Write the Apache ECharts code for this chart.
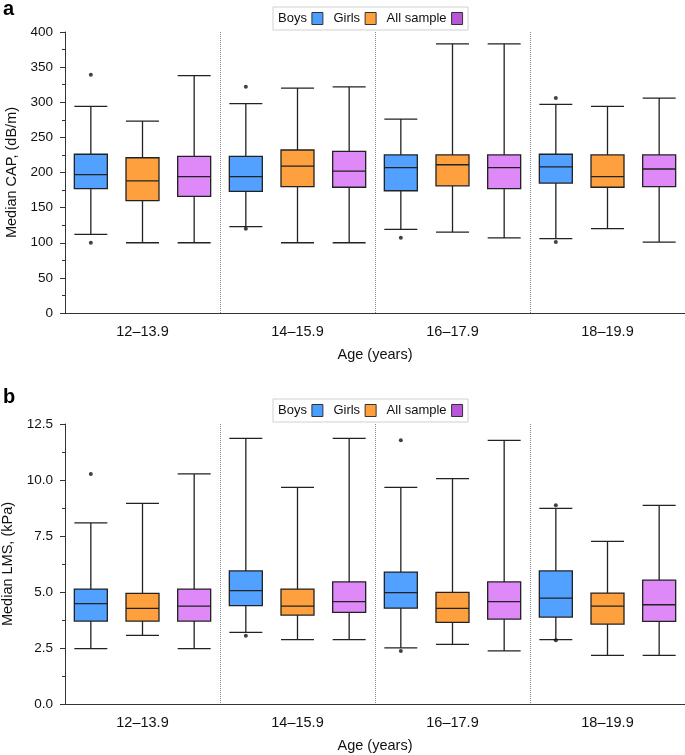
<!DOCTYPE html>
<html>
<head>
<meta charset="utf-8">
<script src="https://cdn.jsdelivr.net/npm/echarts@6/dist/echarts.min.js"></script>
<style>
  html, body { margin: 0; padding: 0; background: #fff; }
  #chart { width: 685px; height: 755px; }
</style>
</head>
<body>
<div id="chart"></div>
<script>
const ageGroups = ["12–13.9", "14–15.9", "16–17.9", "18–19.9"];
const groupNames = ["Boys", "Girls", "All sample"];

// [min, Q1, median, Q3, max] per age group
const capBoys = [[112, 177, 197, 226, 294], [123, 173, 194, 223, 298], [119, 174, 207, 225, 276], [106, 185, 208, 226, 297]];
const capGirls = [[100, 160, 188, 221, 273], [100, 180, 209, 232, 320], [115, 181, 211, 225, 383], [120, 179, 194, 225, 294]];
const capAll = [[100, 166, 194, 223, 338], [100, 179, 202, 230, 322], [107, 177, 207, 225, 383], [101, 180, 205, 225, 306]];
// [age group index, value]
const capBoysOutliers = [[0, 339], [0, 100], [1, 322], [1, 120], [2, 107], [3, 306], [3, 101]];

const lmsBoys = [[2.47, 3.7, 4.48, 5.13, 8.09], [3.2, 4.39, 5.06, 5.94, 11.86], [2.51, 4.28, 4.97, 5.89, 9.67], [2.87, 3.88, 4.73, 5.94, 8.73]];
const lmsGirls = [[3.06, 3.7, 4.27, 4.94, 8.96], [2.87, 3.97, 4.37, 5.13, 9.67], [2.66, 3.64, 4.27, 4.98, 10.06], [2.17, 3.57, 4.37, 4.95, 7.26]];
const lmsAll = [[2.47, 3.7, 4.37, 5.13, 10.27], [2.87, 4.09, 4.57, 5.45, 11.86], [2.37, 3.79, 4.57, 5.45, 11.77], [2.17, 3.69, 4.43, 5.53, 8.87]];
const lmsBoysOutliers = [[0, 10.27], [1, 3.05], [2, 11.77], [2, 2.37], [3, 8.87], [3, 2.85]];

const boxColors = ["#52a0ff", "#ffa03e", "#df88f7"];
const legendColors = ["#4a9eff", "#ffa03c", "#b855d8"];
const FONT = "Liberation Sans";

const chart = echarts.init(document.getElementById("chart"));

// each box gets its own slot: 3 slots per age group
const slots = [];
for (let i = 0; i < ageGroups.length * 3; i++) slots.push(String(i));

const panels = [
  { top: 32, bottom: 442, legendTop: 7, name: "Median CAP, (dB/m)", max: 400, interval: 50, digits: 0,
    sets: [capBoys, capGirls, capAll], outliers: capBoysOutliers },
  { top: 424, bottom: 51, legendTop: 399, name: "Median LMS, (kPa)", max: 12.5, interval: 2.5, digits: 1,
    sets: [lmsBoys, lmsGirls, lmsAll], outliers: lmsBoysOutliers },
];

const grid = [];
const xAxis = [];
const yAxis = [];
const series = [];
const legend = [];

panels.forEach((p, gi) => {
  grid.push({ left: 65, right: 0, top: p.top, bottom: p.bottom, outerBoundsMode: "none" });
  xAxis.push({
    type: "category",
    gridIndex: gi,
    data: ageGroups,
    name: "Age (years)",
    nameLocation: "middle",
    nameGap: 34,
    nameTextStyle: { fontFamily: FONT, fontSize: 14.5, color: "#111" },
    axisLine: { lineStyle: { color: "#333", width: 1 } },
    axisTick: { alignWithLabel: true, length: 5, lineStyle: { color: "#333" } },
    axisLabel: { fontFamily: FONT, fontSize: 14.5, color: "#111", margin: 11 },
    splitLine: { show: true, lineStyle: { type: "dotted", color: "#888", width: 1 } },
  });
  yAxis.push({
    type: "value",
    gridIndex: gi,
    min: 0,
    max: p.max,
    interval: p.interval,
    name: p.name,
    nameLocation: "middle",
    nameGap: 45,
    nameTextStyle: { fontFamily: FONT, fontSize: 14.5, color: "#111" },
    axisLine: { show: true, lineStyle: { color: "#333", width: 1 } },
    axisTick: { show: true, length: 5, lineStyle: { color: "#333" } },
    minorTick: { show: true, splitNumber: 2, length: 3, lineStyle: { color: "#333" } },
    axisLabel: { fontFamily: FONT, fontSize: 13.5, color: "#111", margin: 12,
      formatter: (v) => v.toFixed(p.digits) },
    splitLine: { show: false },
  });

  p.sets.forEach((set, si) => {
    const axisIdx = xAxis.length;
    xAxis.push({ type: "category", gridIndex: gi, data: slots, show: false });
    series.push({
      name: groupNames[si],
      type: "boxplot",
      xAxisIndex: axisIdx,
      yAxisIndex: gi,
      boxWidth: [33, 33],
      encode: { x: 0, y: [1, 2, 3, 4, 5] },
      data: set.map((v, k) => [k * 3 + si].concat(v)),
      itemStyle: { color: boxColors[si], borderColor: "#222", borderWidth: 1.3 },
      emphasis: { disabled: true },
    });
    if (si === 0) {
      series.push({
        name: "outliers",
        type: "scatter",
        xAxisIndex: axisIdx,
        yAxisIndex: gi,
        symbolSize: 4,
        itemStyle: { color: "#111" },
        data: p.outliers.map((o) => [o[0] * 3 + si, o[1]]),
      });
    }
  });

  legend.push({
    top: p.legendTop,
    left: 273,
    align: "right",
    orient: "horizontal",
    itemWidth: 11,
    itemHeight: 12,
    itemGap: 10,
    padding: [5, 5],
    borderColor: "#d0d0d0",
    borderWidth: 1,
    selectedMode: false,
    textStyle: { fontFamily: FONT, fontSize: 13, color: "#111" },
    data: groupNames.map((n, i) => ({
      name: n,
      icon: "rect",
      itemStyle: { color: legendColors[i], borderColor: "#333", borderWidth: 1 },
    })),
  });
});

chart.setOption({
  animation: false,
  title: [
    { text: "a", left: -2, top: -6, textStyle: { fontFamily: FONT, fontSize: 20, fontWeight: "bold", color: "#000" } },
    { text: "b", left: -2, top: 382, textStyle: { fontFamily: FONT, fontSize: 20, fontWeight: "bold", color: "#000" } },
  ],
  legend,
  grid,
  xAxis,
  yAxis,
  series,
});
</script>
</body>
</html>
